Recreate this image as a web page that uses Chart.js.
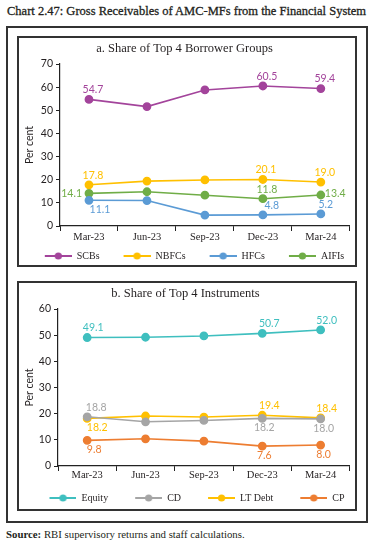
<!DOCTYPE html>
<html>
<head>
<meta charset="utf-8">
<script src="https://cdn.jsdelivr.net/npm/chart.js@4.4.0/dist/chart.umd.min.js"></script>
<style>
  * { box-sizing: border-box; }
  body { margin: 0; background: #fff; width: 374px; height: 544px; position: relative; font-family: 'Liberation Serif', serif; color: #231f20; overflow: hidden; }
  #title { position: absolute; left: 7px; top: 4px; font-size: 12.5px; -webkit-text-stroke: 0.3px #231f20; white-space: nowrap; }
  .outer { position: absolute; left: 6px; top: 26px; width: 362px; height: 497px; border: 2px solid #333; }
  .panel { position: absolute; left: 17px; width: 340px; border: 2px solid #333; }
  #boxA { top: 36px; height: 231px; }
  #boxB { top: 281px; height: 230px; }
  canvas { display: block; }
  #source { position: absolute; left: 6px; top: 528px; font-size: 10.8px; white-space: nowrap; }
</style>
</head>
<body>
<div id="title">Chart 2.47: Gross Receivables of AMC-MFs from the Financial System</div>
<div class="outer"></div>
<div class="panel" id="boxA"><canvas id="chartA" width="336" height="227"></canvas></div>
<div class="panel" id="boxB"><canvas id="chartB" width="336" height="226"></canvas></div>
<div id="source"><b>Source:</b> RBI supervisory returns and staff calculations.</div>
<script>
// quarters shown on both panels
const quarters = ['Mar-23', 'Jun-23', 'Sep-23', 'Dec-23', 'Mar-24'];

// panel a: share of top 4 borrower groups (per cent)
const scbs = [54.7, 51.6, 58.8, 60.5, 59.4];
const nbfcs = [17.8, 19.4, 19.9, 20.1, 19.0];
const hfcs = [11.1, 11.0, 4.7, 4.8, 5.2];
const aifis = [14.1, 14.8, 13.3, 11.8, 13.4];
const ticksA = [0, 10, 20, 30, 40, 50, 60, 70];

// panel b: share of top 4 instruments (per cent)
const equity = [49.1, 49.2, 49.7, 50.7, 52.0];
const cd = [18.8, 16.9, 17.4, 18.2, 18.0];
const ltDebt = [18.2, 19.1, 18.7, 19.4, 18.4];
const cp = [9.8, 10.4, 9.5, 7.6, 8.0];
const ticksB = [0, 10, 20, 30, 40, 50, 60];

const ink = '#231f20';
const serif = 'Liberation Serif';
const sans = 'Lato';

// small line-with-dot marker for the legend (blank space on the left acts as item gap)
function legendMark(color, lead) {
    const c = document.createElement('canvas');
    c.width = lead + 27;
    c.height = 10;
    const g = c.getContext('2d');
    g.strokeStyle = color;
    g.lineWidth = 2;
    g.beginPath();
    g.moveTo(lead, 5);
    g.lineTo(lead + 27, 5);
    g.stroke();
    g.fillStyle = color;
    g.beginPath();
    g.arc(lead + 13.5, 5, 3.6, 0, Math.PI * 2);
    g.fill();
    return c;
}

// value labels drawn next to chosen points: [index, side, dx]
const valueLabels = {
    id: 'valueLabels',
    afterDatasetsDraw(chart, args, opts) {
        const ctx = chart.ctx;
        ctx.save();
        ctx.font = '10.5px ' + sans;
        chart.data.datasets.forEach((ds, di) => {
            const meta = chart.getDatasetMeta(di);
            (opts.places[di] || []).forEach(([i, side, dx]) => {
                const pt = meta.data[i];
                const txt = ds.data[i].toFixed(1);
                let x = pt.x + (dx || 0);
                let y = pt.y;
                ctx.textAlign = 'center';
                ctx.textBaseline = 'middle';
                if (side === 'top') y -= 9.5;
                if (side === 'bottom') y += 9.5;
                if (side === 'left') { ctx.textAlign = 'right'; x -= 7; }
                if (side === 'right') { ctx.textAlign = 'left'; x += 4; y -= 1; }
                ctx.fillStyle = ds.borderColor;
                ctx.fillText(txt, x, y);
            });
        });
        ctx.restore();
    }
};

function series(label, data, color) {
    return {
        label: label,
        data: data,
        borderColor: color,
        backgroundColor: color,
        pointBackgroundColor: color,
        pointBorderColor: color,
        borderWidth: 1.6,
        pointRadius: 3.6,
        pointHoverRadius: 3.6,
        tension: 0,
        fill: false
    };
}

function makeChart(id, title, datasets, ticks, places, box) {
    const marks = datasets.map(d => legendMark(d.borderColor, box.lead));
    return new Chart(document.getElementById(id), {
        type: 'line',
        data: { labels: quarters, datasets: datasets },
        plugins: [valueLabels],
        options: {
            responsive: false,
            animation: false,
            devicePixelRatio: 1,
            layout: { padding: { left: 0, right: box.right, top: 0, bottom: box.bottom } },
            scales: {
                x: {
                    offset: true,
                    grid: { offset: true, drawOnChartArea: false, tickLength: 5, color: '#222', lineWidth: 1 },
                    border: { color: '#222', width: 1.2 },
                    ticks: { font: { family: serif, size: 10.5 }, color: ink, padding: box.tickPad, maxRotation: 0, autoSkip: false },
                    afterFit(s) { s.height = box.xHeight; }
                },
                y: {
                    min: ticks[0],
                    max: ticks[ticks.length - 1],
                    afterBuildTicks(s) { s.ticks = ticks.map(v => ({ value: v })); },
                    grid: { drawOnChartArea: false, tickLength: 4, color: '#222', lineWidth: 1 },
                    border: { color: '#222', width: 1.2 },
                    ticks: { font: { family: sans, size: 10.5 }, color: ink, padding: 3 },
                    title: { display: true, text: 'Per cent', font: { family: sans, size: 10.5 }, color: ink, padding: { top: 4, bottom: 0 } },
                    afterFit(s) { s.width = box.yWidth; }
                }
            },
            plugins: {
                title: {
                    display: true,
                    text: title,
                    font: { family: serif, size: 12.5, weight: 'normal' },
                    color: ink,
                    padding: { top: 3, bottom: 8 }
                },
                legend: {
                    position: 'bottom',
                    labels: {
                        usePointStyle: true,
                        pointStyleWidth: box.lead + 27,
                        boxHeight: 10,
                        padding: 4,
                        color: ink,
                        font: { family: serif, size: 10 },
                        generateLabels(chart) {
                            const items = Chart.defaults.plugins.legend.labels.generateLabels(chart);
                            items.forEach((it, i) => { it.pointStyle = marks[i]; });
                            return items;
                        }
                    }
                },
                tooltip: { enabled: false },
                valueLabels: { places: places }
            }
        }
    });
}

makeChart('chartA', 'a. Share of Top 4 Borrower Groups', [
    series('SCBs', scbs, '#a3449b'),
    series('NBFCs', nbfcs, '#ffc000'),
    series('HFCs', hfcs, '#5b9bd5'),
    series('AIFIs', aifis, '#70ad47')
], ticksA, [
    [[0, 'top', 4], [3, 'top', 4], [4, 'top', 4]],
    [[0, 'top', 4], [3, 'top', 3], [4, 'top', 4]],
    [[0, 'bottom', 11], [3, 'top', 9], [4, 'top', 5]],
    [[0, 'left', 0], [3, 'top', 4], [4, 'right', 0]]
], { yWidth: 41, right: 5, bottom: -6, xHeight: 21, tickPad: 0, lead: 20 });

makeChart('chartB', 'b. Share of Top 4 Instruments', [
    series('Equity', equity, '#3fbfbf'),
    series('CD', cd, '#a5a5a5'),
    series('LT Debt', ltDebt, '#ffc000'),
    series('CP', cp, '#ed7d31')
], ticksB, [
    [[0, 'top', 6], [3, 'top', 7], [4, 'top', 6]],
    [[0, 'top', 9], [3, 'bottom', 2], [4, 'bottom', 3]],
    [[0, 'bottom', 10], [3, 'top', 7], [4, 'top', 6]],
    [[0, 'bottom', 7], [3, 'bottom', 2], [4, 'bottom', 3]]
], { yWidth: 39, right: 3, bottom: -4, xHeight: 23, tickPad: -2, lead: 23 });
</script>
</body>
</html>
